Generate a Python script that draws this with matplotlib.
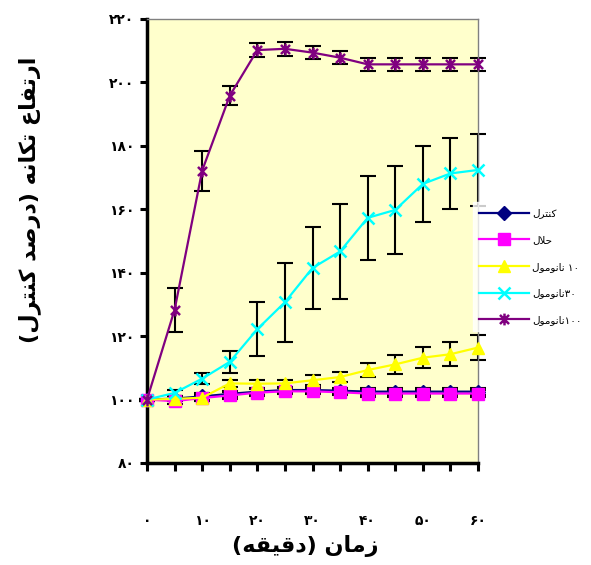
import numpy as np
import matplotlib
matplotlib.use('Agg')
import matplotlib.pyplot as plt
from matplotlib.path import Path
from matplotlib.ticker import FixedLocator, FuncFormatter

plt.rcParams['font.family'] = ['DejaVu Sans']

# time (minutes) and responses (% of control)
times = [0, 5, 10, 15, 20, 25, 30, 35, 40, 45, 50, 55, 60]

control = [100, 100.3, 101, 101.8, 102.5, 103, 103, 102.8, 102.5, 102.5, 102.5, 102.5, 102.5]
control_err = [0.3, 0.8, 1, 1, 1, 1, 1, 1, 1, 1, 1, 1, 1]

solvent = [100, 99.5, 100.5, 101.3, 102.2, 102.6, 102.6, 102.3, 101.9, 101.9, 101.9, 101.9, 101.9]
solvent_err = [0.3, 0.8, 1, 1, 1, 1, 1, 1, 1, 1, 1, 1, 1]

nano10 = [100, 100.2, 100.6, 105.1, 105.0, 105.1, 106.1, 107.1, 109.3, 111.1, 113.2, 114.3, 116.4]
nano10_err = [0.3, 0.8, 1, 1.2, 1.2, 1.2, 1.5, 1.6, 2.2, 3.1, 3.4, 3.8, 4.0]

nano30 = [100, 102.1, 106.6, 111.9, 122.2, 130.7, 141.5, 146.7, 157.3, 159.8, 168.0, 171.3, 172.4]
nano30_err = [0.3, 1.0, 1.7, 3.5, 8.6, 12.5, 12.8, 15.1, 13.2, 13.9, 11.9, 11.3, 11.3]

nano100 = [100, 128.3, 172.2, 195.8, 210.2, 210.6, 209.4, 207.8, 205.7, 205.7, 205.7, 205.7, 205.7]
nano100_err = [0.3, 6.9, 6.3, 3.0, 2.3, 2.3, 2.0, 2.0, 2.0, 2.0, 2.0, 2.0, 2.0]

# simple Persian shaping (matplotlib has no RTL layout)
FORMS = {
    'ا': ('\uFE8D', '\uFE8E'), 'ر': ('\uFEAD', '\uFEAE'), 'ز': ('\uFEAF', '\uFEB0'),
    'د': ('\uFEA9', '\uFEAA'), 'و': ('\uFEED', '\uFEEE'),
    'ت': ('\uFE95', '\uFE96', '\uFE97', '\uFE98'), 'ف': ('\uFED1', '\uFED2', '\uFED3', '\uFED4'),
    'ع': ('\uFEC9', '\uFECA', '\uFECB', '\uFECC'), 'ک': ('\uFB8E', '\uFB8F', '\uFB90', '\uFB91'),
    'ن': ('\uFEE5', '\uFEE6', '\uFEE7', '\uFEE8'), 'ه': ('\uFEE9', '\uFEEA', '\uFEEB', '\uFEEC'),
    'ص': ('\uFEB9', '\uFEBA', '\uFEBB', '\uFEBC'), 'ل': ('\uFEDD', '\uFEDE', '\uFEDF', '\uFEE0'),
    'م': ('\uFEE1', '\uFEE2', '\uFEE3', '\uFEE4'), 'ق': ('\uFED5', '\uFED6', '\uFED7', '\uFED8'),
    'ی': ('\uFBFC', '\uFBFD', '\uFBFE', '\uFBFF'), 'ح': ('\uFEA1', '\uFEA2', '\uFEA3', '\uFEA4'),
}


def dual(c):
    return c in FORMS and len(FORMS[c]) == 4


def shape(text):
    out = []
    i = 0
    while i < len(text):
        c = text[i]
        if c not in FORMS:
            out.append(c)
            i += 1
            continue
        prev_join = i > 0 and dual(text[i - 1])
        if c == 'ل' and i + 1 < len(text) and text[i + 1] == 'ا':
            out.append('\uFEFC' if prev_join else '\uFEFB')
            i += 2
            continue
        next_join = dual(c) and i + 1 < len(text) and text[i + 1] in FORMS
        f = FORMS[c]
        if prev_join and next_join:
            out.append(f[3])
        elif prev_join:
            out.append(f[1])
        elif next_join:
            out.append(f[2])
        else:
            out.append(f[0])
        i += 1
    return ''.join(reversed(out)).translate(str.maketrans('()', ')('))


def fa(n):
    return str(int(n)).translate(str.maketrans('0123456789', '۰۱۲۳۴۵۶۷۸۹'))


labels = [shape('کنترل'), shape('حلال'), shape('نانومول') + ' ' + fa(10),
          shape('نانومول') + fa(30), shape('نانومول') + fa(100)]

star = Path([(-1, -1), (1, 1), (-1, 1), (1, -1), (0, -1.3), (0, 1.3)],
            [Path.MOVETO, Path.LINETO, Path.MOVETO, Path.LINETO, Path.MOVETO, Path.LINETO])

fig = plt.figure(figsize=(5.91, 5.65), dpi=100)
ax = fig.add_axes([147 / 591, 1 - 463 / 565, 331 / 591, 444 / 565])
ax.set_facecolor('#FFFFCC')

series = [
    (control, control_err, '#000080', 'D', 7, 1),
    (solvent, solvent_err, '#FF00FF', 's', 9, 1),
    (nano10, nano10_err, '#FFFF00', '^', 9, 1),
    (nano30, nano30_err, '#00FFFF', 'x', 8, 1.8),
    (nano100, nano100_err, '#800080', star, 8.5, 1.8),
]

handles = []
for k, (vals, err, col, mk, ms, mew) in enumerate(series):
    ax.errorbar(times, vals, yerr=err, fmt='none', ecolor='black', elinewidth=1.5,
                capsize=6, capthick=1.5, zorder=2 + k * 0.1, clip_on=False)
    ln, = ax.plot(times, vals, color=col, lw=1.6, marker=mk, ms=ms, mew=mew,
                  mec=col, mfc=col, zorder=3 + k * 0.1, clip_on=False)
    handles.append(ln)

ax.set_xlim(0, 60)
ax.set_ylim(80, 220)

ax.xaxis.set_major_locator(FixedLocator(times))
ax.xaxis.set_major_formatter(FuncFormatter(lambda v, p: fa(v) if v % 10 == 0 else ''))
ax.yaxis.set_major_locator(FixedLocator(range(80, 221, 20)))
ax.yaxis.set_major_formatter(FuncFormatter(lambda v, p: fa(v)))

for s in ['left', 'bottom']:
    ax.spines[s].set_linewidth(2.5)
    ax.spines[s].set_color('black')
for s in ['top', 'right']:
    ax.spines[s].set_linewidth(1)
    ax.spines[s].set_color('#808080')

ax.tick_params(axis='y', direction='out', length=5, width=2.2, pad=4, labelsize=10)
ax.tick_params(axis='x', direction='out', length=6, width=2.2, pad=31, labelsize=10)
for t in ax.get_xticklabels() + ax.get_yticklabels():
    t.set_fontweight('bold')

fig.text(305 / 591, 1 - 546 / 565, shape('زمان (دقیقه)'), fontsize=16, fontweight='bold',
         ha='center', va='center')
fig.text(30 / 591, 1 - 200 / 565, shape('ارتفاع تکانه (درصد کنترل)'), fontsize=16,
         fontweight='bold', ha='center', va='center', rotation=90)

leg = fig.legend(handles, labels, loc='upper left', bbox_to_anchor=(473 / 591, 1 - 202 / 565),
                 fontsize=7.5, frameon=True, fancybox=False, handlelength=4.8,
                 labelspacing=1.6, borderpad=0.6, handletextpad=0.3, borderaxespad=0)
leg.get_frame().set_facecolor('white')
leg.get_frame().set_edgecolor('white')

fig.savefig('out.png', dpi=100)
